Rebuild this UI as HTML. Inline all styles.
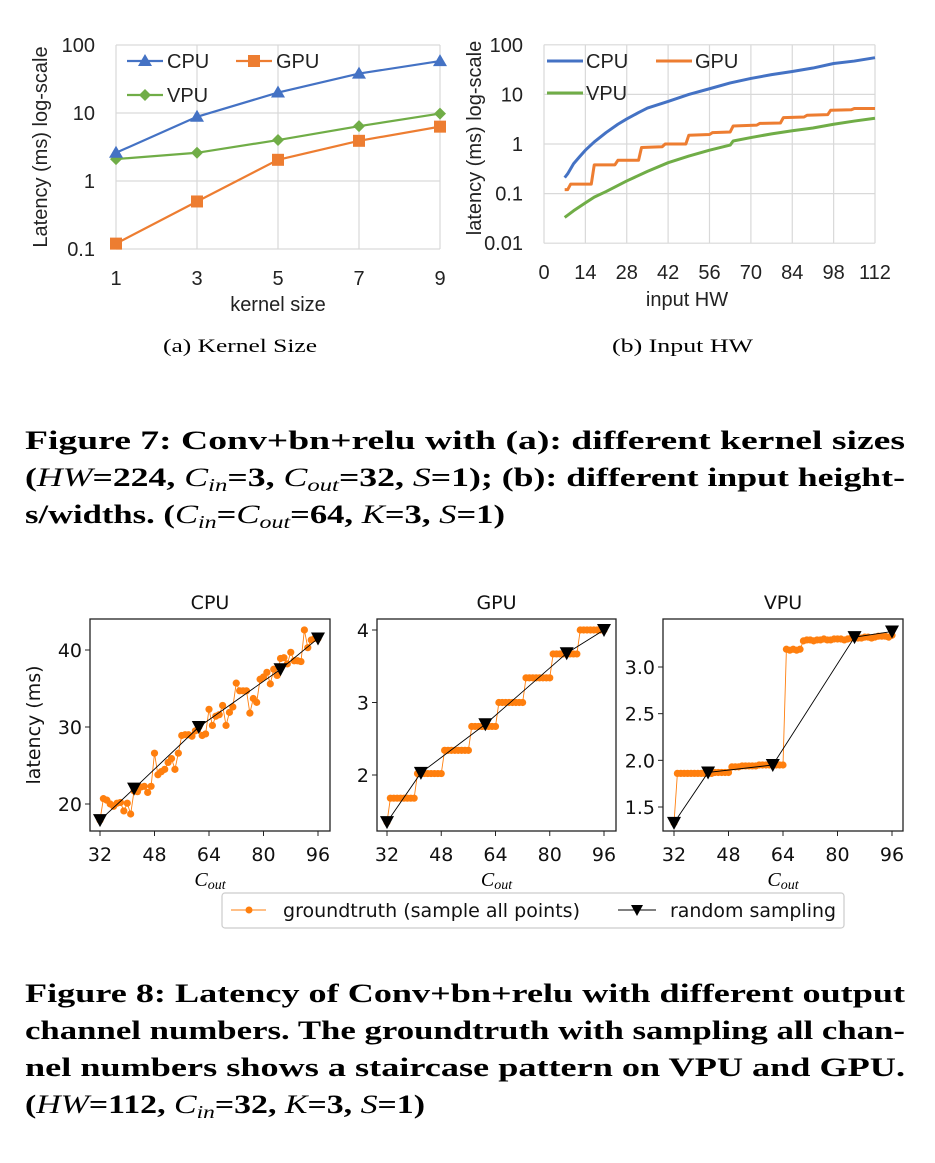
<!DOCTYPE html>
<html><head><meta charset="utf-8">
<style>
html,body{margin:0;padding:0;background:#fff;}
svg{display:block;}
.cap{font-family:"Liberation Serif",serif;font-weight:bold;font-size:26px;fill:#000;}
.sub{font-family:"Liberation Serif",serif;font-size:19px;fill:#000;}
.xl{font-family:"Liberation Sans",sans-serif;font-size:20px;fill:#222;}
.mp{font-family:"DejaVu Sans",sans-serif;font-size:19px;fill:#111;}
</style></head>
<body>
<svg id="root" width="935" height="1163" viewBox="0 0 935 1163" xmlns="http://www.w3.org/2000/svg">
<g id="chartA"></g>
<g id="chartB"></g>
<text class="sub" x="163" y="352" textLength="154" lengthAdjust="spacingAndGlyphs">(a)  Kernel Size</text>
<text class="sub" x="612" y="352" textLength="141" lengthAdjust="spacingAndGlyphs">(b)  Input HW</text>

<g>
<text class="cap" x="25" y="449" textLength="880" lengthAdjust="spacingAndGlyphs">Figure 7: Conv+bn+relu with (a): different kernel sizes</text>
<text class="cap" x="25" y="486" textLength="880" lengthAdjust="spacingAndGlyphs">(<tspan font-style="italic" font-weight="normal">HW</tspan>=224, <tspan font-style="italic" font-weight="normal">C</tspan><tspan font-style="italic" font-weight="normal" font-size="18" dy="5">in</tspan><tspan dy="-5">=3, </tspan><tspan font-style="italic" font-weight="normal">C</tspan><tspan font-style="italic" font-weight="normal" font-size="18" dy="5">out</tspan><tspan dy="-5">=32, </tspan><tspan font-style="italic" font-weight="normal">S</tspan>=1); (b): different input height-</text>
<text class="cap" x="25" y="523" textLength="480" lengthAdjust="spacingAndGlyphs">s/widths. (<tspan font-style="italic" font-weight="normal">C</tspan><tspan font-style="italic" font-weight="normal" font-size="18" dy="5">in</tspan><tspan dy="-5">=</tspan><tspan font-style="italic" font-weight="normal">C</tspan><tspan font-style="italic" font-weight="normal" font-size="18" dy="5">out</tspan><tspan dy="-5">=64, </tspan><tspan font-style="italic" font-weight="normal">K</tspan>=3, <tspan font-style="italic" font-weight="normal">S</tspan>=1)</text>
</g>

<g id="panels"></g>

<g>
<rect x="222" y="893" width="622" height="35" rx="3" fill="#fff" stroke="#ccc" stroke-width="1.2"/>
<g>
<line x1="231" y1="910" x2="266" y2="910" stroke="#ff7f0e" stroke-width="1"/>
<circle cx="249" cy="910" r="3.5" fill="#ff7f0e"/>
<text class="mp" x="283" y="917" textLength="297" lengthAdjust="spacingAndGlyphs">groundtruth (sample all points)</text>
</g>
<g>
<line x1="618" y1="910" x2="656" y2="910" stroke="#000" stroke-width="1"/>
<path d="M631,905 L643,905 L637,916 Z" fill="#000"/>
<text class="mp" x="670" y="917" textLength="166" lengthAdjust="spacingAndGlyphs">random sampling</text>
</g>
</g>

<g>
<text class="cap" x="25" y="1002" textLength="880" lengthAdjust="spacingAndGlyphs">Figure 8: Latency of Conv+bn+relu with different output</text>
<text class="cap" x="25" y="1039" textLength="880" lengthAdjust="spacingAndGlyphs">channel numbers. The groundtruth with sampling all chan-</text>
<text class="cap" x="25" y="1076" textLength="880" lengthAdjust="spacingAndGlyphs">nel numbers shows a staircase pattern on VPU and GPU.</text>
<text class="cap" x="25" y="1113" textLength="400" lengthAdjust="spacingAndGlyphs">(<tspan font-style="italic" font-weight="normal">HW</tspan>=112, <tspan font-style="italic" font-weight="normal">C</tspan><tspan font-style="italic" font-weight="normal" font-size="18" dy="5">in</tspan><tspan dy="-5">=32, </tspan><tspan font-style="italic" font-weight="normal">K</tspan>=3, <tspan font-style="italic" font-weight="normal">S</tspan>=1)</text>
</g>
</svg>

<script>
// ---------- Chart A data ----------
const kernelSizes = [1, 3, 5, 7, 9];
const aCPU = [2.6, 8.8, 20, 38, 58];
const aGPU = [0.12, 0.5, 2.05, 3.9, 6.3];
const aVPU = [2.1, 2.6, 4.0, 6.4, 9.8];
const aYTicks = [0.1, 1, 10, 100];
const aYTickLabels = ["0.1", "1", "10", "100"];

// ---------- Chart B data ----------
const bXTicks = [0, 14, 28, 42, 56, 70, 84, 98, 112];
const bYTicks = [0.01, 0.1, 1, 10, 100];
const bYTickLabels = ["0.01", "0.1", "1", "10", "100"];
const bCpuHW = [7, 8, 10, 12, 14, 17, 21, 25, 28, 32, 35, 42, 49, 56, 63, 70, 77, 84, 91, 98, 105, 112];
const bCpuVal = [0.21, 0.25, 0.4, 0.55, 0.75, 1.1, 1.7, 2.5, 3.2, 4.3, 5.3, 7.2, 10, 13, 17, 21, 25, 29, 34, 42, 47, 55];
const bGpuHW = [7, 8, 9, 16, 17, 24, 25, 32, 33, 40, 41, 48, 49, 56, 57, 63, 64, 72, 73, 80, 81, 88, 89, 96, 97, 104, 105, 112];
const bGpuVal = [0.12, 0.12, 0.155, 0.155, 0.38, 0.38, 0.47, 0.47, 0.85, 0.88, 1.0, 1.0, 1.5, 1.55, 1.7, 1.75, 2.3, 2.4, 2.6, 2.65, 3.4, 3.5, 3.8, 3.9, 4.8, 4.9, 5.2, 5.2];
const bVpuHW = [7, 10, 14, 17, 21, 28, 35, 42, 49, 56, 63, 64, 70, 77, 84, 91, 98, 105, 112];
const bVpuVal = [0.033, 0.045, 0.065, 0.085, 0.11, 0.18, 0.28, 0.42, 0.57, 0.75, 0.95, 1.15, 1.35, 1.6, 1.85, 2.1, 2.5, 2.9, 3.3];

// ---------- Figure 8 data ----------
const coutStart = 32;
const cpuTruth = [17.9,20.7,20.5,20.0,19.7,20.1,20.2,19.1,20.1,18.7,21.7,21.6,22.2,22.3,21.5,22.3,26.6,23.8,24.2,24.5,25.4,25.9,24.5,26.6,28.9,29.0,29.0,28.8,29.5,30.0,28.9,29.1,32.3,30.2,31.4,31.6,32.8,30.2,31.9,32.6,35.7,34.7,34.7,34.7,31.8,33.7,33.2,36.2,36.5,37.1,35.6,37.5,36.7,38.9,39.0,38.2,39.7,38.6,38.6,38.5,42.6,40.3,41.3,41.5,41.5];
const gpuTruth = [1.35,1.68,1.68,1.68,1.68,1.68,1.68,1.68,1.68,2.02,2.02,2.02,2.02,2.02,2.02,2.02,2.02,2.34,2.34,2.34,2.34,2.34,2.34,2.34,2.34,2.67,2.67,2.67,2.67,2.67,2.67,2.67,2.67,3.0,3.0,3.0,3.0,3.0,3.0,3.0,3.0,3.34,3.34,3.34,3.34,3.34,3.34,3.34,3.34,3.67,3.67,3.67,3.67,3.67,3.67,3.67,3.67,4.0,4.0,4.0,4.0,4.0,4.0,4.0,4.0];
const vpuTruth = [1.33,1.86,1.86,1.86,1.86,1.86,1.86,1.86,1.86,1.86,1.86,1.86,1.87,1.87,1.87,1.87,1.87,1.93,1.93,1.93,1.94,1.94,1.94,1.94,1.94,1.95,1.95,1.95,1.95,1.95,1.95,1.95,1.95,3.19,3.18,3.19,3.18,3.19,3.28,3.29,3.29,3.28,3.29,3.29,3.30,3.29,3.29,3.30,3.30,3.30,3.29,3.30,3.31,3.31,3.31,3.31,3.32,3.32,3.31,3.32,3.33,3.33,3.33,3.32,3.34];
const sampleCout = [32, 42, 61, 85, 96];
const cpuSample = [17.9, 22.0, 30.0, 37.5, 41.5];
const gpuSample = [1.35, 2.03, 2.7, 3.68, 4.0];
const vpuSample = [1.33, 1.87, 1.95, 3.32, 3.38];
const coutTicks = [32, 48, 64, 80, 96];
const cpuYTicks = [20, 30, 40];
const gpuYTicks = [2, 3, 4];
const vpuYTicks = [1.5, 2.0, 2.5, 3.0];
const vpuYTickLabels = ["1.5", "2.0", "2.5", "3.0"];

const NS = "http://www.w3.org/2000/svg";
function mk(parent, tag, attrs, text) {
  const e = document.createElementNS(NS, tag);
  for (const k in attrs) e.setAttribute(k, attrs[k]);
  if (text !== undefined) e.textContent = text;
  parent.appendChild(e);
  return e;
}

// ===== Chart A =====
(function () {
  const g = document.getElementById('chartA');
  const L = 116, R = 440;
  const xA = k => L + (k - 1) / 8 * (R - L);
  const yA = v => 181 - Math.log10(v) * 68;
  aYTicks.forEach((t, i) => {
    const ln = mk(g, 'line', {x1: L, x2: R, y1: yA(t), y2: yA(t), stroke: '#d9d9d9', 'stroke-width': 1.2});
    
    
    const tx = mk(g, 'text', {x: 95, y: yA(t) + 7, 'text-anchor': 'end', class: 'xl'}, aYTickLabels[i]);
    
    
  });
  kernelSizes.forEach(k => {
    const ln = mk(g, 'line', {x1: xA(k), x2: xA(k), y1: yA(100), y2: yA(0.1), stroke: '#d9d9d9', 'stroke-width': 1.2});
    
    
    const tx = mk(g, 'text', {x: xA(k), y: 285, 'text-anchor': 'middle', class: 'xl'}, String(k));
    
    
  });
  const xt = mk(g, 'text', {x: 278, y: 311, 'text-anchor': 'middle', class: 'xl'}, 'kernel size');
  
  
  const yt = mk(g, 'text', {x: 0, y: 0, 'text-anchor': 'middle', class: 'xl', transform: 'translate(47,147) rotate(-90)'}, 'Latency (ms) log-scale');
  
  

  function marker(p, type, x, y, color) {
    let m;
    if (type === 'tri') m = mk(p, 'path', {d: `M${x},${y-7} L${x+7},${y+5} L${x-7},${y+5} Z`, fill: color});
    else if (type === 'sq') m = mk(p, 'rect', {x: x - 6, y: y - 6, width: 12, height: 12, fill: color});
    else m = mk(p, 'path', {d: `M${x},${y-6} L${x+6},${y} L${x},${y+6} L${x-6},${y} Z`, fill: color});
    return m;
  }
  const series = [[aVPU, '#70ad47', 'dia', 'vpu'], [aGPU, '#ed7d31', 'sq', 'gpu'], [aCPU, '#4472c4', 'tri', 'cpu']];
  series.forEach(([vals, col, mt, nm]) => {
    const sg = mk(g, 'g', {});
    
    
    mk(sg, 'polyline', {points: vals.map((v, i) => xA(kernelSizes[i]) + ',' + yA(v)).join(' '), fill: 'none', stroke: col, 'stroke-width': 2.2});
    vals.forEach((v, i) => {
      const m = marker(sg, mt, xA(kernelSizes[i]), yA(v), col);
      
      
    });
  });
  const legs = [['CPU', '#4472c4', 'tri', 127, 61], ['GPU', '#ed7d31', 'sq', 236, 61], ['VPU', '#70ad47', 'dia', 127, 95]];
  legs.forEach(([lab, col, mt, x, y]) => {
    const lg = mk(g, 'g', {});
    
    
    mk(lg, 'line', {x1: x, x2: x + 36, y1: y, y2: y, stroke: col, 'stroke-width': 2.2});
    marker(lg, mt, x + 18, y, col);
    mk(lg, 'text', {x: x + 40, y: y + 7, class: 'xl'}, lab);
  });
})();

// ===== Chart B =====
(function () {
  const g = document.getElementById('chartB');
  const L = 544, R = 875;
  const xB = h => L + h / 112 * (R - L);
  const yB = v => 144 - Math.log10(v) * 49.6;
  bYTicks.forEach((t, i) => {
    const ln = mk(g, 'line', {x1: L, x2: R, y1: yB(t), y2: yB(t), stroke: '#d9d9d9', 'stroke-width': 1.2});
    
    
    const tx = mk(g, 'text', {x: 523, y: yB(t) + 7, 'text-anchor': 'end', class: 'xl'}, bYTickLabels[i]);
    
    
  });
  bXTicks.forEach(h => {
    const ln = mk(g, 'line', {x1: xB(h), x2: xB(h), y1: yB(100), y2: yB(0.01), stroke: '#d9d9d9', 'stroke-width': 1.2});
    
    
    const tx = mk(g, 'text', {x: xB(h), y: 279, 'text-anchor': 'middle', class: 'xl'}, String(h));
    
    
  });
  const xt = mk(g, 'text', {x: 687, y: 306, 'text-anchor': 'middle', class: 'xl'}, 'input HW');
  
  
  const yt = mk(g, 'text', {x: 0, y: 0, 'text-anchor': 'middle', class: 'xl', transform: 'translate(481,138) rotate(-90)'}, 'latency (ms) log-scale');
  
  
  const ss = [[bVpuHW, bVpuVal, '#70ad47', 'vpu'], [bGpuHW, bGpuVal, '#ed7d31', 'gpu'], [bCpuHW, bCpuVal, '#4472c4', 'cpu']];
  ss.forEach(([xs, vs, col, nm]) => {
    const pl = mk(g, 'polyline', {points: xs.map((h, i) => xB(h) + ',' + yB(vs[i])).join(' '), fill: 'none', stroke: col, 'stroke-width': 3, 'stroke-linejoin': 'round'});
    
    
  });
  const legs = [['CPU', '#4472c4', 547, 61], ['GPU', '#ed7d31', 656, 61], ['VPU', '#70ad47', 547, 93]];
  legs.forEach(([lab, col, x, y]) => {
    const lg = mk(g, 'g', {});
    
    
    mk(lg, 'line', {x1: x, x2: x + 36, y1: y, y2: y, stroke: col, 'stroke-width': 3});
    mk(lg, 'text', {x: x + 39, y: y + 7, class: 'xl'}, lab);
  });
})();

// ===== Figure 8 panels =====
(function () {
  const root = document.getElementById('panels');
  const panels = [
    {name: 'cpu', title: 'CPU', L: 90, R: 330, x32: 100, x96: 318, yv1: 20, yp1: 804, yv2: 40, yp2: 650, truth: cpuTruth, samp: cpuSample, ticks: cpuYTicks, labels: cpuYTicks.map(String)},
    {name: 'gpu', title: 'GPU', L: 377, R: 616, x32: 387, x96: 604, yv1: 2, yp1: 775, yv2: 4, yp2: 630, truth: gpuTruth, samp: gpuSample, ticks: gpuYTicks, labels: gpuYTicks.map(String)},
    {name: 'vpu', title: 'VPU', L: 663, R: 903, x32: 674, x96: 892, yv1: 1.5, yp1: 807, yv2: 3.0, yp2: 667, truth: vpuTruth, samp: vpuSample, ticks: vpuYTicks, labels: vpuYTickLabels}
  ];
  const T = 619, B = 831;
  panels.forEach(p => {
    const g = mk(root, 'g', {});
    
    
    const xs = c => p.x32 + (c - 32) / 64 * (p.x96 - p.x32);
    const ys = v => p.yp1 + (v - p.yv1) / (p.yv2 - p.yv1) * (p.yp2 - p.yp1);
    const t = mk(g, 'text', {x: (p.L + p.R) / 2, y: 609, 'text-anchor': 'middle', class: 'mp'}, p.title);
    
    
    p.ticks.forEach((v, i) => {
      mk(g, 'line', {x1: p.L - 5, x2: p.L, y1: ys(v), y2: ys(v), stroke: '#222', 'stroke-width': 1});
      const tx = mk(g, 'text', {x: p.L - 8, y: ys(v) + 7, 'text-anchor': 'end', class: 'mp'}, p.labels[i]);
      
      
    });
    coutTicks.forEach(c => {
      mk(g, 'line', {x1: xs(c), x2: xs(c), y1: B, y2: B + 5, stroke: '#222', 'stroke-width': 1});
      const tx = mk(g, 'text', {x: xs(c), y: 861, 'text-anchor': 'middle', class: 'mp'}, String(c));
      
      
    });
    const xl = mk(g, 'text', {x: (p.L + p.R) / 2, y: 886, 'text-anchor': 'middle', 'font-family': 'Liberation Serif, serif', 'font-style': 'italic', 'font-size': 20});
    
    
    mk(xl, 'tspan', {}, 'C');
    mk(xl, 'tspan', {'font-size': 14, dy: 3}, 'out');
    const pts = p.truth.map((v, i) => xs(coutStart + i) + ',' + ys(v)).join(' ');
    const tl = mk(g, 'polyline', {points: pts, fill: 'none', stroke: '#ff7f0e', 'stroke-width': 0.9});
    
    
    p.truth.forEach((v, i) => {
      const c = mk(g, 'circle', {cx: xs(coutStart + i), cy: ys(v), r: 3.6, fill: '#ff7f0e'});
      
      
    });
    const sl = mk(g, 'polyline', {points: p.samp.map((v, i) => xs(sampleCout[i]) + ',' + ys(v)).join(' '), fill: 'none', stroke: '#000', 'stroke-width': 0.9});
    
    
    p.samp.forEach((v, i) => {
      const x = xs(sampleCout[i]), y = ys(v);
      const m = mk(g, 'path', {d: `M${x-7},${y-6} L${x+7},${y-6} L${x},${y+7} Z`, fill: '#000'});
      
      
    });
    const fr = mk(g, 'rect', {x: p.L, y: T, width: p.R - p.L, height: B - T, fill: 'none', stroke: '#222', 'stroke-width': 1.3});
    
    
  });
  const yl = mk(root, 'text', {x: 0, y: 0, 'text-anchor': 'middle', class: 'mp', transform: 'translate(40,725) rotate(-90)'}, 'latency (ms)');
  
  
})();
</script>
</body></html>
